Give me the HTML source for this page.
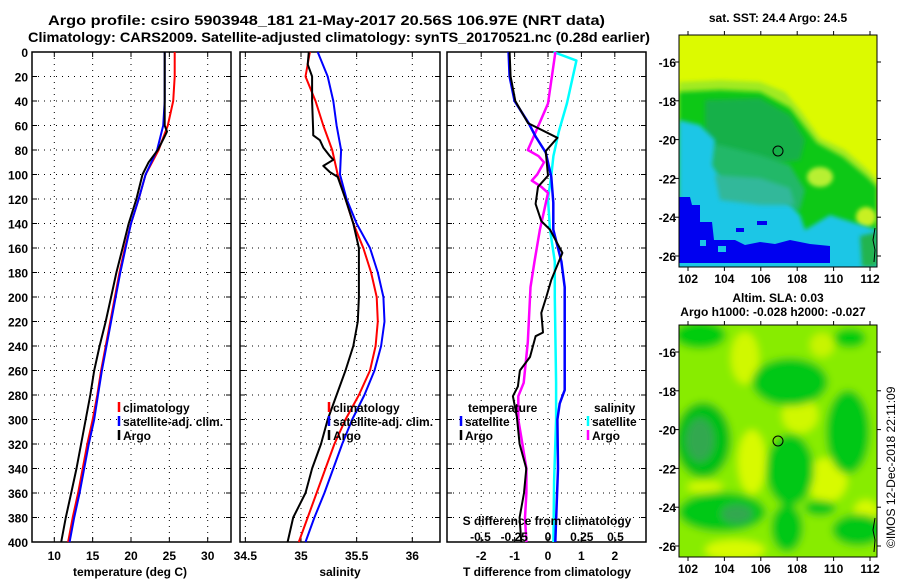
<!DOCTYPE html>
<html><head><meta charset="utf-8">
<style>
html,body{margin:0;padding:0;background:#fff;}
svg{display:block;font-family:"Liberation Sans",sans-serif;font-weight:bold;}
</style></head>
<body>
<svg id="fig" width="900" height="580" viewBox="0 0 900 580" xmlns="http://www.w3.org/2000/svg">
<defs>
<filter id="blur6" x="-50%" y="-50%" width="200%" height="200%"><feGaussianBlur stdDeviation="4"/></filter>
<filter id="blur3" x="-50%" y="-50%" width="200%" height="200%"><feGaussianBlur stdDeviation="2"/></filter>
<clipPath id="clipTop"><rect x="679" y="35" width="198" height="232"/></clipPath>
<clipPath id="clipBot"><rect x="679" y="325" width="198" height="232"/></clipPath>
</defs>
<text x="48" y="25" font-size="14" textLength="557" lengthAdjust="spacingAndGlyphs">Argo profile: csiro 5903948_181 21-May-2017 20.56S 106.97E (NRT data)</text>
<text x="28" y="42" font-size="14" textLength="622" lengthAdjust="spacingAndGlyphs">Climatology: CARS2009. Satellite-adjusted climatology: synTS_20170521.nc (0.28d earlier)</text>

<g id="panels"></g>

<!-- top map -->
<g>
<text x="778" y="22" font-size="12" text-anchor="middle">sat. SST: 24.4 Argo: 24.5</text>
<g clip-path="url(#clipTop)">
<rect x="679" y="35" width="198" height="232" fill="#dcfa00"/>
<polygon filter="url(#blur3)" fill="#a0ea20" points="679,82 720,80 760,82 785,92 800,110 820,138 845,150 868,170 877,180 877,267 679,267"/>
<polygon filter="url(#blur3)" fill="#10c818" points="679,92 720,90 760,92 790,108 817,143 843,157 867,177 877,187 877,267 679,267"/>
<polygon filter="url(#blur3)" fill="#18b048" points="705,100 760,98 790,115 805,140 800,160 770,165 730,160 705,150"/>
<polygon filter="url(#blur3)" fill="#20b868" points="690,140 720,145 760,155 790,165 805,190 800,210 770,215 730,212 700,205 685,180"/>
<ellipse cx="820" cy="177" rx="13" ry="10" fill="#b8f030" filter="url(#blur3)"/>
<ellipse cx="866" cy="217" rx="10" ry="10" fill="#c8f020" filter="url(#blur3)"/>
<polygon filter="url(#blur3)" fill="#1cc6e6" points="679,120 700,125 715,140 712,165 725,187 760,190 785,200 800,215 805,230 830,215 877,230 877,267 679,267"/>
<polygon filter="url(#blur3)" fill="#30b89a" points="715,175 760,178 790,188 795,205 760,205 720,200"/>
<polygon fill="#0000f0" points="679,197 690,197 692,205 700,205 700,222 712,222 714,240 735,240 745,245 760,242 775,244 790,240 810,244 830,246 830,263 679,263"/>
<rect x="679" y="263" width="198" height="4" fill="#1cc6e6"/>
<rect x="700" y="240" width="6" height="6" fill="#1cc6e6"/>
<rect x="718" y="246" width="8" height="6" fill="#1cc6e6"/>
<rect x="736" y="228" width="8" height="4" fill="#0000f0"/>
<rect x="757" y="221" width="10" height="4" fill="#0000f0"/>
<polygon filter="url(#blur3)" fill="#20b450" points="860,236 877,232 877,267 862,267"/>
</g>
<rect x="679" y="35" width="198" height="232" fill="none" stroke="#000" stroke-width="1"/>
<circle cx="778" cy="151" r="5" fill="none" stroke="#000" stroke-width="1"/>
<path d="M875,228 L873,240 L875,250 L874,262" stroke="#000" fill="none"/>
</g>

<!-- bottom map -->
<g>
<text x="778" y="302" font-size="12" text-anchor="middle">Altim. SLA: 0.03</text>
<text x="773" y="316" font-size="12" text-anchor="middle">Argo h1000: -0.028 h2000: -0.027</text>
<g clip-path="url(#clipBot)" filter="url(#blur6)">
<rect x="660" y="300" width="240" height="280" fill="#88ec00"/>
<ellipse cx="745" cy="358" rx="14" ry="26" fill="#d0f800"/>
<ellipse cx="822" cy="345" rx="12" ry="12" fill="#c8f400"/>
<ellipse cx="800" cy="415" rx="18" ry="18" fill="#d0f800"/>
<ellipse cx="752" cy="462" rx="14" ry="32" fill="#d8fa00"/>
<ellipse cx="705" cy="487" rx="18" ry="6" fill="#d0f800"/>
<ellipse cx="827" cy="480" rx="20" ry="22" fill="#d8fa00"/>
<ellipse cx="866" cy="512" rx="12" ry="12" fill="#d8fa00"/>
<ellipse cx="735" cy="550" rx="30" ry="10" fill="#d8fa00"/>
<ellipse cx="700" cy="335" rx="26" ry="14" fill="#00cc10"/>
<ellipse cx="850" cy="338" rx="16" ry="10" fill="#00cc10"/>
<ellipse cx="790" cy="382" rx="38" ry="24" fill="#00c818"/>
<ellipse cx="703" cy="440" rx="28" ry="38" fill="#00c018"/>
<ellipse cx="700" cy="440" rx="14" ry="22" fill="#30a850"/>
<ellipse cx="848" cy="432" rx="22" ry="42" fill="#00c818"/>
<ellipse cx="790" cy="470" rx="24" ry="36" fill="#00c818"/>
<ellipse cx="722" cy="512" rx="44" ry="20" fill="#00c818"/>
<ellipse cx="737" cy="514" rx="16" ry="10" fill="#30a850"/>
<ellipse cx="787" cy="528" rx="16" ry="24" fill="#00c818"/>
<ellipse cx="858" cy="530" rx="26" ry="16" fill="#00c818"/>
<ellipse cx="820" cy="508" rx="16" ry="8" fill="#00c818"/>
</g>
<rect x="679" y="325" width="198" height="232" fill="none" stroke="#000" stroke-width="1"/>
<circle cx="778" cy="441" r="5" fill="none" stroke="#000" stroke-width="1"/>
<path d="M875,518 L873,530 L875,540 L874,552" stroke="#000" fill="none"/>
</g>
<text transform="translate(895,548) rotate(-90)" font-size="12" font-weight="normal">©IMOS 12-Dec-2018 22:11:09</text>
<g id="mapaxes"></g>
</svg>
<script>
// ---- data ----
const depthTicks = [0,20,40,60,80,100,120,140,160,180,200,220,240,260,280,300,320,340,360,380,400];
const stdDepths = [0,20,40,60,80,100,120,140,160,180,200,220,240,260,280,300,320,340,360,380,400];
const tempClim = [25.7,25.7,25.5,24.8,23.6,21.9,21.0,20.0,19.2,18.5,17.9,17.3,16.7,16.1,15.6,15.0,14.3,13.7,13.1,12.4,11.8];
const tempSat = [24.4,24.4,24.4,24.2,23.4,21.9,21.0,20.0,19.3,18.6,18.0,17.4,16.8,16.2,15.7,15.2,14.5,13.9,13.3,12.6,12.0];
const tempArgoDepths = [0,20,40,60,65,70,80,90,100,120,140,160,180,200,220,240,260,280,300,320,340,360,380,400];
const tempArgo = [24.4,24.4,24.4,24.4,24.7,24.3,23.5,22.3,21.5,20.7,19.7,18.9,18.1,17.4,16.7,15.9,15.2,14.7,14.1,13.5,12.9,12.2,11.5,10.9];
const salClim = [35.08,35.04,35.13,35.20,35.28,35.33,35.40,35.47,35.56,35.63,35.68,35.69,35.67,35.62,35.52,35.40,35.30,35.22,35.14,35.06,34.98];
const salSat = [35.15,35.24,35.29,35.32,35.36,35.35,35.41,35.50,35.62,35.69,35.74,35.75,35.72,35.66,35.57,35.46,35.37,35.29,35.21,35.12,35.04];
const salArgoDepths = [0,10,20,40,65,68,72,78,85,88,93,98,102,120,140,160,180,200,220,240,260,280,300,320,340,360,380,400];
const salArgo = [35.07,35.06,35.10,35.10,35.11,35.11,35.17,35.20,35.26,35.29,35.20,35.26,35.33,35.40,35.47,35.52,35.52,35.52,35.51,35.47,35.40,35.32,35.24,35.18,35.10,35.04,34.93,34.88];
const dTSatDepths = [0,20,40,58,69,82,102,123,145,171,192,230,276,287,300,340,400];
const dTSat = [-1.18,-1.15,-1.0,-0.58,-0.37,-0.07,0.1,0.16,0.16,0.4,0.5,0.5,0.5,0.35,0.28,0.3,0.22];
const dTArgoDepths = [0,20,40,58,70,81,101,110,124,138,145,164,186,200,213,229,232,249,260,273,281,298,320,340,360,380,400];
const dTArgo = [-1.15,-1.12,-0.98,-0.6,0.28,-0.07,0,-0.3,-0.37,-0.2,0.06,0.43,0.1,-0.05,-0.2,-0.15,-0.37,-0.54,-0.84,-0.9,-1.05,-0.93,-0.85,-0.65,-0.72,-0.85,-0.8];
const dSSatDepths = [0,7,42,65,85,100,120,145,171,200,270,300,350,400];
const dSSat = [0.04,0.21,0.14,0.08,0.04,0.025,0.0,0.015,0.05,0.05,0.06,0.06,0.045,0.04];
const dSArgoDepths = [0,42,60,75,80,85,90,100,105,110,115,130,145,171,192,237,270,281,300,320,340,360,380,400];
const dSArgo = [0.055,0,-0.07,-0.13,-0.15,-0.07,-0.03,-0.08,-0.12,-0.05,0,-0.03,-0.06,-0.1,-0.13,-0.15,-0.18,-0.22,-0.22,-0.19,-0.16,-0.16,-0.17,-0.16];
const tempTicks = [10,15,20,25,30];
const salTicks = [34.5,35,35.5,36];
const salTickLabels = ["34.5","35","35.5","36"];
const dTTicks = [-2,-1,0,1,2];
const dSTicks = [-0.5,-0.25,0,0.25,0.5];
const latTicks = [-16,-18,-20,-22,-24,-26];
const lonTicks = [102,104,106,108,110,112];

const NS = "http://www.w3.org/2000/svg";
const root = document.getElementById('panels');
function mk(tag, attrs, parent){ const e=document.createElementNS(NS,tag); for(const k in attrs) e.setAttribute(k,attrs[k]); (parent||root).appendChild(e); return e; }
const yD = d => 52 + d*1.225;
const Y0 = 52, Y1 = yD(400);
const xT = t => 54.3 + (t-10)*7.67;
const xS = s => 301 + (s-35)*111.3;
const xdT = t => 548 + t*33.4;
const xdS = s => 548 + s*135;

function frame(x0,x1,name,xticks,xf){
  const g = mk('g',{});
  
  
  depthTicks.forEach(d=>{ const y=yD(d);
    if(d>0&&d<400) mk('line',{x1:x0,x2:x1,y1:y,y2:y,stroke:'#000','stroke-width':1,'stroke-dasharray':'1,5'},g);
    mk('line',{x1:x0,x2:x0+5,y1:y,y2:y,stroke:'#000'},g);
    mk('line',{x1:x1-5,x2:x1,y1:y,y2:y,stroke:'#000'},g);
  });
  xticks.forEach(v=>{ const x=xf(v);
    mk('line',{x1:x,x2:x,y1:Y0,y2:Y1,stroke:'#000','stroke-width':1,'stroke-dasharray':'1,5'},g);
    mk('line',{x1:x,x2:x,y1:Y0,y2:Y0+5,stroke:'#000'},g);
    mk('line',{x1:x,x2:x,y1:Y1-5,y2:Y1,stroke:'#000'},g);
  });
  mk('rect',{x:x0,y:Y0,width:x1-x0,height:Y1-Y0,fill:'none',stroke:'#000','stroke-width':1.5},g);
  return g;
}
function line(xs,ds,xf,color,name,w){
  const p = xs.map((v,i)=>xf(v).toFixed(1)+','+yD(ds[i]).toFixed(1)).join(' ');
  const e = mk('polyline',{points:p,fill:'none',stroke:color,'stroke-width':w||2,'stroke-linejoin':'round'});
  
  
}
function txt(x,y,s,name,anchor,size){
  const e = mk('text',{x:x,y:y,'font-size':size||12,'text-anchor':anchor||'start'});
  e.textContent = s;
  
  
  return e;
}
function legend(x,y,color,label,name){
  mk('line',{x1:x,x2:x,y1:y-10,y2:y,stroke:color,'stroke-width':2.5});
  txt(x+4,y,label,name);
}

depthTicks.forEach(d=>{ txt(28,yD(d)+5,String(d),'depth-tick-label','end',12); });

// Panel 1
frame(32,231,'temperature-panel',tempTicks,xT);
tempTicks.forEach(t=>txt(xT(t),560,String(t),'temperature-tick-label','middle'));
txt(130,576,'temperature (deg C)','temperature-axis-title','middle');
line(tempClim,stdDepths,xT,'#ff0000','temperature-climatology-line');
line(tempSat,stdDepths,xT,'#0000ff','temperature-satellite-line');
line(tempArgo,tempArgoDepths,xT,'#000000','temperature-argo-line');
legend(119,412,'#ff0000','climatology','legend-climatology');
legend(119,426,'#0000ff','satellite-adj. clim.','legend-satellite-adj');
legend(119,440,'#000000','Argo','legend-argo');

// Panel 2
frame(240,440,'salinity-panel',salTicks,xS);
salTicks.forEach((s,i)=>txt(xS(s),560,salTickLabels[i],'salinity-tick-label','middle'));
txt(340,576,'salinity','salinity-axis-title','middle');
line(salClim,stdDepths,xS,'#ff0000','salinity-climatology-line');
line(salSat,stdDepths,xS,'#0000ff','salinity-satellite-line');
line(salArgo,salArgoDepths,xS,'#000000','salinity-argo-line');
legend(329,412,'#ff0000','climatology','legend-climatology-2');
legend(329,426,'#0000ff','satellite-adj. clim.','legend-satellite-adj-2');
legend(329,440,'#000000','Argo','legend-argo-2');

// Panel 3
frame(447,646,'difference-panel',dTTicks,xdT);
line(dSSat,dSSatDepths,xdS,'#00ffff','salinity-diff-satellite-line',2.5);
line(dSArgo,dSArgoDepths,xdS,'#ff00ff','salinity-diff-argo-line',2.5);
line(dTSat,dTSatDepths,xdT,'#0000ff','temperature-diff-satellite-line',2.5);
line(dTArgo,dTArgoDepths,xdT,'#000000','temperature-diff-argo-line',2);
dTTicks.forEach(t=>txt(xdT(t),560,String(t),'t-diff-tick-label','middle'));
dSTicks.forEach(s=>txt(xdS(s),541,String(s),'s-diff-tick-label','middle'));
txt(547,525,'S difference from climatology','s-diff-axis-title','middle');
txt(547,576,'T difference from climatology','t-diff-axis-title','middle');
txt(468,412,'temperature','legend-temperature-header');
legend(461,426,'#0000ff','satellite','legend-t-satellite');
legend(461,440,'#000000','Argo','legend-t-argo');
txt(594,412,'salinity','legend-salinity-header');
legend(588,426,'#00ffff','satellite','legend-s-satellite');
legend(588,440,'#ff00ff','Argo','legend-s-argo');

// map axes
const mroot = document.getElementById('mapaxes');
function maxes(top,bottom,prefix){
  const latY = l => top + 27 + (-16 - l)*19.4;
  const lonX = l => 688 + (l-102)*18.2;
  latTicks.forEach(l=>{ const y=latY(l);
    const t = mk('text',{x:676,y:y+5,'font-size':12,'text-anchor':'end'},mroot); t.textContent=String(l);
    
    
    mk('line',{x1:877,x2:881,y1:y,y2:y,stroke:'#000'},mroot);
    mk('line',{x1:675,x2:679,y1:y,y2:y,stroke:'#000'},mroot);
  });
  lonTicks.forEach(l=>{ const x=lonX(l);
    const t = mk('text',{x:x,y:bottom+16,'font-size':12,'text-anchor':'middle'},mroot); t.textContent=String(l);
    
    
    mk('line',{x1:x,x2:x,y1:top-4,y2:top,stroke:'#000'},mroot);
    mk('line',{x1:x,x2:x,y1:bottom,y2:bottom+4,stroke:'#000'},mroot);
  });
}
maxes(35,267,'sst-map');
maxes(325,557,'sla-map');
</script>
</body></html>
